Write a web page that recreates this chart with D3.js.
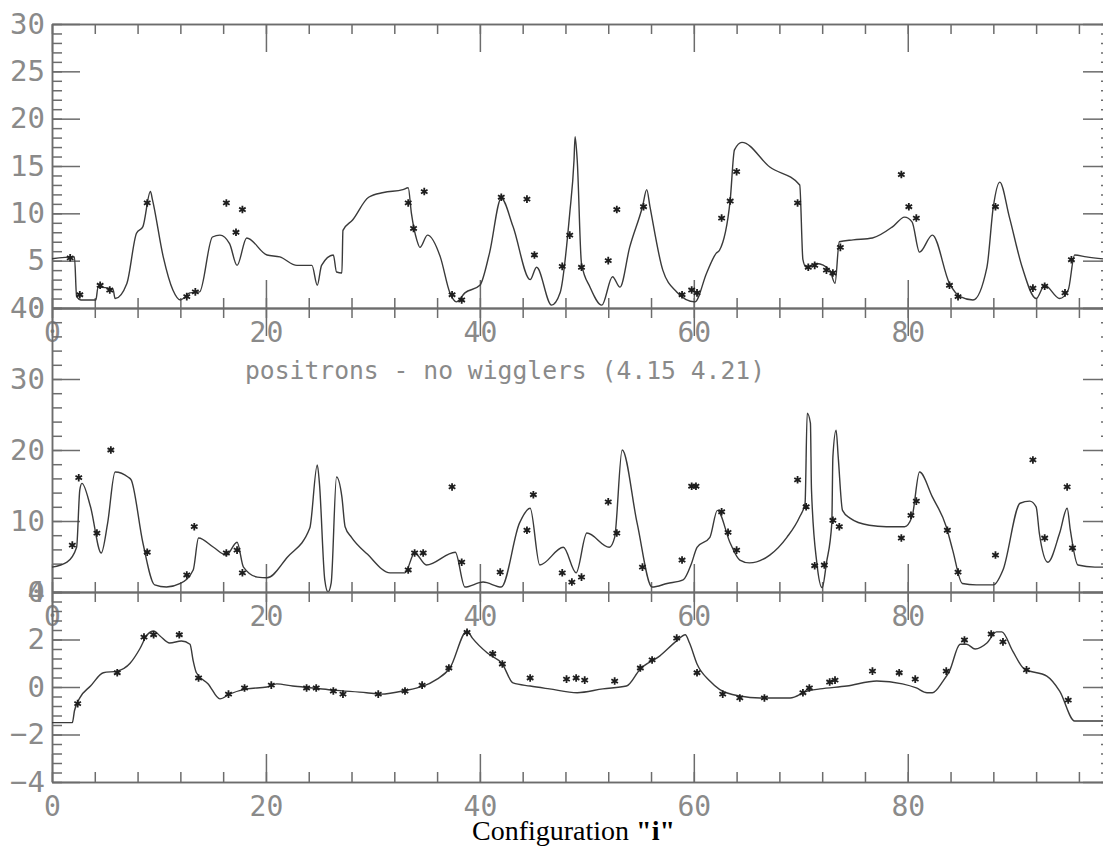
<!DOCTYPE html>
<html>
<head>
<meta charset="utf-8">
<script src="https://cdn.jsdelivr.net/npm/d3@7"></script>
<style>
  body { margin: 0; background: #fff; }
  .axis text { font-family: "DejaVu Sans Mono", monospace; fill: #8a8a8a; }
</style>
</head>
<body>
<div class="plot"></div>
<script>
// DATA ---------------------------------------------------------------

// panel 1 : horizontal beta (line) and measured points (stars)
var betaXLine = [[0,5.2],[2.1,5.4],[2.3,1.2],[2.7,0.85],[4.1,0.85],[4.3,2.2],[5.7,2.0],[5.9,1.0],[7.0,2.6],[7.9,7.9],
  [8.5,8.6],[9.2,12.3],[9.4,11.4],[10.4,5.4],[11.3,1.9],[12.0,0.85],[12.9,1.6],[13.8,1.7],[15.0,7.5],[15.7,7.7],
  [16.6,6.8],[17.3,4.5],[18.2,7.4],[20.1,5.6],[21.3,5.4],[22.9,4.5],[24.3,4.5],[24.8,2.4],[25.2,4.5],[26.3,5.6],
  [26.6,3.8],[27.1,3.7],[27.2,8.2],[28.1,9.3],[29.6,11.7],[31.0,12.2],[32.8,12.5],[33.3,12.7],[33.6,10.0],[34.1,7.2],
  [34.4,6.4],[35.1,7.7],[36.3,5.4],[37.2,1.6],[37.8,0.65],[38.6,1.6],[40.0,2.4],[40.9,5.8],[42.0,11.6],[43.1,8.6],
  [44.7,3.0],[45.3,4.3],[46.7,0.3],[47.5,1.6],[48.4,10.0],[48.8,15.6],[48.9,18.1],[49.1,15.6],[49.5,4.7],[50.3,2.2],
  [51.4,0.3],[52.4,3.3],[53.1,2.2],[54.0,6.4],[55.2,10.7],[55.6,12.5],[55.9,10.7],[57.1,4.0],[58.4,1.7],[60.1,0.65],
  [61.2,3.7],[62.1,5.8],[62.4,6.1],[63.4,11.4],[63.8,16.7],[64.5,17.5],[67.1,14.9],[69.9,13.0],[70.2,5.1],[70.5,4.3],
  [71.5,4.7],[72.7,4.0],[73.2,2.6],[73.6,7.0],[74.9,7.2],[76.7,7.4],[78.6,8.6],[79.7,9.6],[80.4,9.1],[81.1,5.9],
  [82.3,7.7],[83.9,2.6],[84.9,1.2],[86.1,0.85],[87.4,4.3],[88.0,10.7],[88.6,13.3],[89.5,9.6],[90.7,4.3],[92.0,1.0],
  [92.8,2.4],[94.2,1.0],[95.0,1.9],[95.6,5.6],[96.7,5.4],[99,5.1]];

var betaXMeas = [[1.7,5.3],[2.6,1.4],[4.5,2.4],[5.4,1.9],[8.9,11.1],[12.6,1.2],[13.4,1.7],[16.3,11.1],[17.8,10.4],
  [17.2,8.0],[33.3,11.1],[33.8,8.4],[34.8,12.3],[37.4,1.4],[38.3,0.85],[42.0,11.7],[44.4,11.5],[45.1,5.6],[47.7,4.4],
  [48.4,7.7],[49.5,4.3],[52.0,5.0],[52.8,10.4],[55.3,10.7],[58.9,1.4],[59.8,1.9],[60.3,1.6],[62.6,9.5],[63.4,11.3],
  [64.0,14.4],[69.7,11.1],[70.7,4.3],[71.3,4.5],[72.4,4.0],[73.0,3.7],[73.7,6.4],[79.4,14.1],[80.1,10.7],[80.8,9.5],
  [83.9,2.4],[84.7,1.2],[88.2,10.7],[91.7,2.1],[92.8,2.3],[94.7,1.6],[95.3,5.1]];

// panel 2 : vertical beta
var betaYLine = [[0,3.5],[1.4,4.2],[2.3,6.3],[2.6,14.4],[2.8,15.3],[3.6,12.0],[4.6,5.5],[5.2,9.7],[5.9,16.9],[7.1,16.2],
  [7.4,15.8],[8.5,6.9],[9.6,1.0],[10.7,0.7],[12.0,1.2],[13.2,3.1],[13.7,7.6],[15.1,6.3],[16.3,5.2],[17.3,7.0],
  [17.9,3.5],[19.2,2.1],[20.1,2.0],[22.0,4.9],[24.1,9.0],[24.8,17.9],[25.0,15.3],[25.5,1.7],[25.8,0.0],[26.1,1.3],
  [26.6,16.2],[27.1,13.4],[27.4,9.2],[28.0,7.7],[29.5,5.3],[31.6,2.7],[33.0,2.7],[33.9,5.5],[35.0,3.8],[37.7,5.6],
  [38.6,0.7],[40.3,1.4],[42.0,0.7],[43.7,9.7],[44.7,11.8],[45.6,3.8],[47.8,6.3],[49.0,2.7],[50.0,8.3],[52.1,6.3],
  [52.6,7.7],[53.3,20.0],[54.7,9.7],[56.1,0.7],[57.5,1.2],[59.0,1.7],[59.8,4.1],[60.3,6.3],[61.5,7.7],[62.2,11.5],
  [63.4,6.9],[64.3,4.5],[65.2,4.1],[67.1,5.2],[68.7,7.7],[69.9,10.6],[70.4,12.5],[70.6,25.2],[70.9,23.8],[71.0,14.4],
  [71.5,4.1],[72.0,0.6],[72.4,4.1],[72.9,9.7],[73.0,19.0],[73.3,22.8],[73.5,19.0],[73.9,11.5],[74.6,10.4],[76.4,9.4],
  [78.0,9.2],[79.7,9.2],[80.4,10.6],[81.1,16.9],[82.3,13.4],[83.6,9.2],[84.2,5.9],[85.1,1.2],[86.4,1.0],[88.0,1.0],
  [88.9,3.1],[90.5,12.5],[91.4,12.8],[92.0,12.0],[92.3,8.3],[93.1,4.2],[94.2,8.3],[94.9,11.8],[95.2,8.7],[95.9,3.8],
  [97.5,3.5],[99,3.5]];

var betaYMeas = [[1.9,6.6],[2.5,16.1],[4.2,8.3],[5.5,20.0],[8.9,5.6],[12.6,2.4],[13.3,9.2],[16.3,5.5],[17.3,5.9],
  [17.8,2.7],[33.3,3.1],[33.9,5.5],[34.7,5.5],[37.4,14.8],[38.3,4.2],[41.9,2.8],[44.4,8.7],[45.0,13.7],[47.7,2.7],
  [48.6,1.4],[49.5,2.1],[52.0,12.7],[52.8,8.3],[55.2,3.5],[58.9,4.5],[59.8,14.9],[60.2,14.9],[62.6,11.3],[63.2,8.4],
  [64.0,5.9],[69.7,15.8],[70.5,12.0],[71.3,3.7],[72.2,3.8],[73.0,10.1],[73.6,9.2],[79.4,7.6],[80.3,10.8],[80.8,12.8],
  [83.7,8.7],[84.7,2.8],[88.2,5.2],[91.7,18.6],[92.8,7.6],[94.9,14.8],[95.4,6.2]];

// panel 3 : dispersion
var dispLine = [[0,-1.5],[1.9,-1.5],[2.1,-1.0],[2.6,-0.46],[3.6,0.04],[4.8,0.6],[6.1,0.67],[7.3,1.0],[8.2,1.6],
  [8.9,2.2],[9.5,2.36],[10.1,2.15],[11.0,1.85],[12.1,1.94],[12.9,1.8],[13.2,1.1],[13.5,0.6],[14.6,0.13],[15.7,-0.5],
  [16.6,-0.3],[18.2,-0.08],[20.1,0.0],[21.0,0.13],[22.5,0.04],[24.4,-0.04],[26.3,-0.13],[29.4,-0.24],[30.7,-0.3],
  [32.8,-0.17],[36.0,0.33],[37.2,0.8],[38.8,2.36],[39.3,2.06],[40.7,1.43],[42.1,0.97],[43.1,0.17],[44.7,0.04],
  [46.5,-0.08],[49.1,-0.24],[51.5,-0.08],[53.7,0.04],[55.0,0.76],[56.8,1.3],[58.4,1.94],[59.2,2.2],[59.6,1.85],
  [60.3,0.97],[61.5,0.25],[62.4,-0.1],[64.3,-0.38],[66.2,-0.46],[69.0,-0.46],[70.6,-0.17],[71.8,-0.08],[74.3,0.04],
  [77.1,0.25],[79.5,0.13],[80.8,-0.04],[81.8,-0.24],[82.3,-0.24],[83.3,0.25],[83.9,0.67],[84.9,1.8],[85.5,1.8],
  [86.3,1.6],[87.4,1.85],[88.3,2.32],[88.8,2.32],[89.8,1.52],[90.9,0.76],[93.0,0.46],[94.2,-0.17],[95.6,-1.43],[99,-1.43]];

var dispMeas = [[2.4,-0.7],[6.1,0.6],[8.6,2.1],[9.5,2.2],[11.9,2.2],[13.7,0.38],[16.5,-0.3],[18.0,-0.04],[20.5,0.08],
  [23.8,-0.04],[24.7,-0.04],[26.3,-0.17],[27.2,-0.3],[30.5,-0.3],[33.0,-0.17],[34.6,0.08],[37.1,0.8],[38.8,2.3],
  [41.2,1.4],[42.1,0.97],[44.7,0.38],[48.1,0.33],[49.0,0.38],[49.8,0.29],[52.6,0.25],[55.0,0.8],[56.1,1.14],
  [58.4,2.06],[60.3,0.6],[62.7,-0.3],[64.3,-0.46],[66.6,-0.46],[70.2,-0.24],[70.8,-0.04],[72.7,0.21],[73.2,0.29],
  [76.7,0.67],[79.2,0.6],[80.7,0.33],[83.6,0.67],[85.3,1.98],[87.8,2.23],[88.9,1.9],[91.1,0.72],[95.0,-0.55]];

// tick values
var xMajorTicks = [0, 20, 40, 60, 80];
var xMinorTicks = d3.range(0, 99, 4);
var title = "positrons - no wigglers (4.15 4.21)";

// SET UP SVG ELEMENT -----------------------------------

var svgWidth = 1103;
var svgHeight = 847;

var svg = d3.select(".plot")
  .append("svg")
  .attr("width", svgWidth)
  .attr("height", svgHeight);

// shared x scale (the right axis sits just past the picture edge)
var xScale = d3.scaleLinear().domain([0, 99]).range([52, 1111]);

var panels = [
  { line: betaXLine, meas: betaXMeas, domain: [0, 30], range: [308, 24], major: d3.range(0, 31, 5), minor: d3.range(0, 31, 1) },
  { line: betaYLine, meas: betaYMeas, domain: [0, 40], range: [592, 308], major: d3.range(0, 41, 10), minor: d3.range(0, 41, 2) },
  { line: dispLine, meas: dispMeas, domain: [-4, 4], range: [782, 592], major: d3.range(-4, 4.01, 2), minor: d3.range(-4, 4.01, 0.4) }
];

var axisColor = "#6c6c6c";

// styling helper for an axis group
function styleAxis(g, fontSize) {
  g.attr("color", axisColor)
    .attr("font-size", fontSize)
    .attr("font-family", null);
  g.selectAll("line").attr("stroke-width", 1.5);
  g.select(".domain").attr("stroke-width", 1.5);
}

// DRAW PANELS -----------------------------------

panels.forEach(function(p) {
  var yScale = d3.scaleLinear().domain(p.domain).range(p.range);
  var yTop = p.range[1], yBot = p.range[0];
  var g = svg.append("g");

  // minor ticks on all four sides
  g.append("g").attr("class", "axis").attr("transform", `translate(0, ${yBot})`)
    .call(d3.axisBottom(xScale).tickValues(xMinorTicks).tickSize(-10).tickSizeOuter(0).tickFormat(""))
    .call(styleAxis, 28);
  g.append("g").attr("class", "axis").attr("transform", `translate(0, ${yTop})`)
    .call(d3.axisTop(xScale).tickValues(xMinorTicks).tickSize(-10).tickSizeOuter(0).tickFormat(""))
    .call(styleAxis, 28);
  g.append("g").attr("class", "axis").attr("transform", `translate(${xScale(0)}, 0)`)
    .call(d3.axisLeft(yScale).tickValues(p.minor).tickSize(-10).tickSizeOuter(0).tickFormat(""))
    .call(styleAxis, 28);
  g.append("g").attr("class", "axis").attr("transform", `translate(${xScale(99)}, 0)`)
    .call(d3.axisRight(yScale).tickValues(p.minor).tickSize(-10).tickSizeOuter(0).tickFormat(""))
    .call(styleAxis, 28);

  // major ticks with labels (bottom + left)
  g.append("g").attr("class", "axis").attr("transform", `translate(0, ${yBot})`)
    .call(d3.axisBottom(xScale).tickValues(xMajorTicks).tickSize(-28).tickSizeOuter(0).tickPadding(14).tickFormat(d3.format("d")))
    .call(styleAxis, 28);
  g.append("g").attr("class", "axis").attr("transform", `translate(0, ${yTop})`)
    .call(d3.axisTop(xScale).tickValues(xMajorTicks).tickSize(-28).tickSizeOuter(0).tickFormat(""))
    .call(styleAxis, 28);
  g.append("g").attr("class", "axis").attr("transform", `translate(${xScale(0)}, 0)`)
    .call(d3.axisLeft(yScale).tickValues(p.major).tickSize(-28).tickSizeOuter(0).tickPadding(7).tickFormat(d3.format("d")))
    .call(styleAxis, 29);
  g.append("g").attr("class", "axis").attr("transform", `translate(${xScale(99)}, 0)`)
    .call(d3.axisRight(yScale).tickValues(p.major).tickSize(-28).tickSizeOuter(0).tickFormat(""))
    .call(styleAxis, 28);

  // model curve (smooth, no overshoot at the sharp peaks)
  var lineGen = d3.line()
    .x(d => xScale(d[0]))
    .y(d => yScale(d[1]))
    .curve(d3.curveMonotoneX);

  g.append("path")
    .datum(p.line)
    .attr("d", lineGen)
    .attr("fill", "none")
    .attr("stroke", "#3a3a3a")
    .attr("stroke-width", 1.4)
    .attr("stroke-linejoin", "round");

  // measured points as asterisks
  g.selectAll(".meas")
    .data(p.meas)
    .enter()
    .append("path")
    .attr("class", "meas")
    .attr("transform", d => `translate(${xScale(d[0])}, ${yScale(d[1])})`)
    .attr("d", d3.symbol().type(d3.symbolAsterisk).size(40))
    .attr("fill", "none")
    .attr("stroke", "#1e1e1e")
    .attr("stroke-width", 1.8);
});

// TEXT -----------------------------------

// panel title (between panel 1 and 2)
svg.append("text")
  .attr("x", 245)
  .attr("y", 379)
  .attr("textLength", 520)
  .attr("lengthAdjust", "spacingAndGlyphs")
  .attr("font-family", "DejaVu Sans Mono, monospace")
  .attr("font-size", 25)
  .attr("fill", "#8a8a8a")
  .text(title);

// caption
var caption = svg.append("text")
  .attr("x", 472)
  .attr("y", 840)
  .attr("font-family", "Liberation Serif, Times New Roman, serif")
  .attr("font-size", 28)
  .attr("fill", "#000");
caption.append("tspan").text("Configuration ");
caption.append("tspan").attr("font-weight", "bold").text("\"i\"");
</script>
</body>
</html>
